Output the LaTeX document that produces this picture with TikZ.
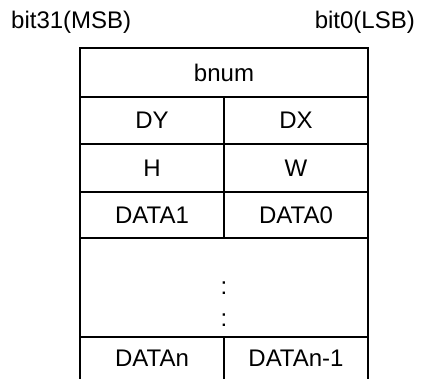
\documentclass[tikz,border=0pt]{standalone}
\usepackage{fontspec}
\setmainfont{Liberation Sans}
\usetikzlibrary{positioning}
\tikzset{
  grid/.style    = {line width=1.8pt, black},
  cell/.style    = {inner sep=0pt, font=\fontsize{24}{28}\selectfont},
  bitlabel/.style= {inner sep=0pt, font=\fontsize{24}{28}\selectfont},
}

\begin{document}
\begin{tikzpicture}[x=1pt, y=1pt]
  \useasboundingbox (0,0) rectangle (425,379);

  % outline and row lines
  \coordinate (tl) at (80,331);
  \coordinate (tr) at (368,331);
  \coordinate (bl) at (80,0);
  \coordinate (br) at (368,0);
  \draw[grid] (bl) -- (tl) -- (tr) -- (br);
  \foreach \y in {282,235,187,141,42}
    \draw[grid] (80,\y) -- (368,\y);
  \draw[grid] (224,282) -- (224,141);
  \draw[grid] (224,42) -- (224,0);

  % bit labels
  \node[bitlabel, anchor=west] (msb) at (11,357) {bit31(MSB)};
  \node[bitlabel, anchor=east] (lsb) at (415,357) {bit0(LSB)};

  % cells
  \node[cell] (bnum)  at (224,306.5) {bnum};
  \node[cell] (dy)    at (152,258.5) {DY};
  \node[cell] (dx)    at (296,258.5) {DX};
  \node[cell] (h)     at (152,211)   {H};
  \node[cell] (w)     at (296,211)   {W};
  \node[cell] (data1) at (152,164)   {DATA1};
  \node[cell] (data0) at (296,164)   {DATA0};
  \node[cell] (dots1) at (224,91)    {:};
  \node[cell] (dots2) at (224,59)    {:};
  \node[cell] (datan) at (152,21)    {DATAn};
  \node[cell] (datam) at (296,21)    {DATAn-1};
\end{tikzpicture}
\end{document}
